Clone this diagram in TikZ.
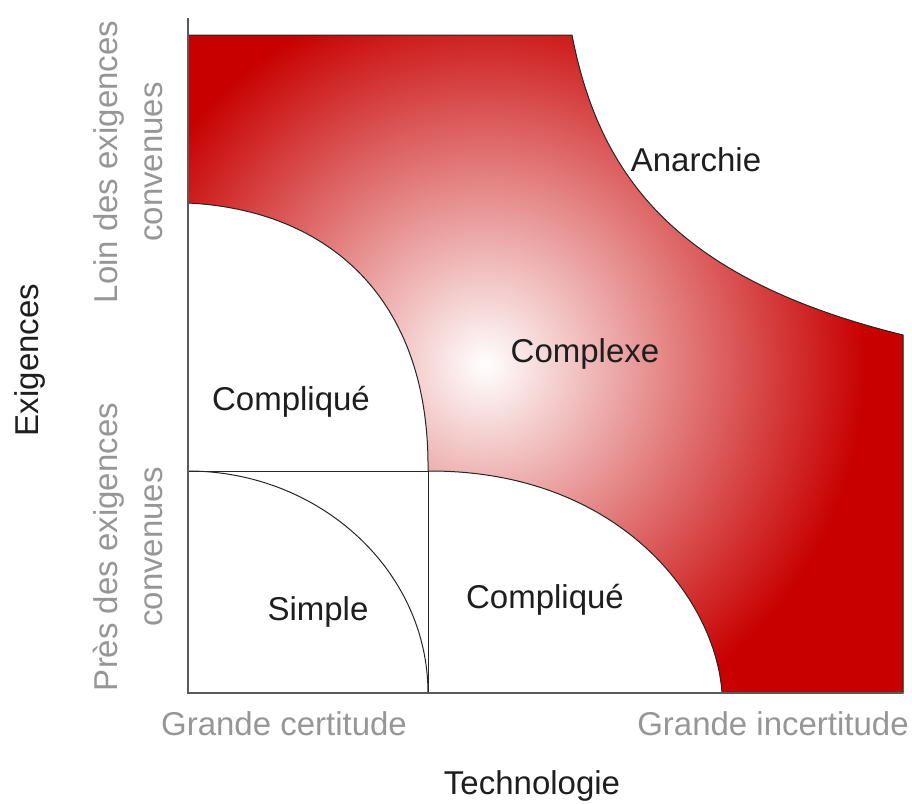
\documentclass[tikz,border=0pt]{standalone}
\usepackage{fontspec}
\setmainfont{Liberation Sans}
\usetikzlibrary{positioning}
\definecolor{cxred}{RGB}{200,0,0}
\definecolor{axisgray}{RGB}{150,150,150}
\definecolor{linegray}{RGB}{90,90,90}
\definecolor{labelblack}{RGB}{30,30,30}
\pgfdeclareradialshading{spot}{\pgfpoint{0bp}{0bp}}{color(0bp)=(white); color(12.5bp)=(cxred); color(25bp)=(cxred); color(50bp)=(cxred)}

\begin{document}
\begin{tikzpicture}[x=0.5pt,y=-0.5pt,
  lbl/.style={text=labelblack,font=\fontsize{16.5}{22.5}\selectfont},
  axlbl/.style={text=axisgray,font=\fontsize{16.5}{22.5}\selectfont,align=center},
  zone/.style={draw=black!85,line width=0.5pt},
  axisline/.style={draw=linegray,line width=0.8pt}]
\useasboundingbox (0,0) rectangle (912,804);
\coordinate (orig) at (188,693);
\coordinate (top) at (188,18);
\coordinate (right) at (903,693);
\coordinate (mid) at (428,471);
% complex zone with the light spot
\path[zone,fill=cxred,path picture={\shade[shading=spot] (485,365) circle[radius=380pt];}]
  (188,35) -- (572,35) .. controls (600,180) and (680,280) .. (903,335)
  -- (right) -- (722,693) .. controls (716,600) and (620,470) .. (mid)
  .. controls (430,300) and (330,210) .. (188,203) -- cycle;
% simple zone and dividers
\draw[zone] (188,471) -- (mid) -- (428,693);
\draw[zone] (188,471) .. controls (320,471) and (428,571) .. (428,693);
\draw[axisline] (top) -- (orig) -- (right);
% labels
\node[lbl] (anarchie) at (696,160) {Anarchie};
\node[lbl] (complexe) at (585,354) {Complexe};
\node[lbl] (compla) at (291,402) {Compliqué};
\node[lbl] (simple) at (318,612) {Simple};
\node[lbl] (complb) at (545,600) {Compliqué};
\node[axlbl] (certain) at (284,724) {Grande certitude};
\node[axlbl] (uncertain) at (773,724) {Grande incertitude};
\node[lbl] (techno) at (532,786) {Technologie};
\node[lbl,rotate=90] (exig) at (30,360) {Exigences};
\node[axlbl,rotate=90] (far) at (128,162) {Loin des exigences\\convenues};
\node[axlbl,rotate=90] (near) at (128,547) {Près des exigences\\convenues};
\end{tikzpicture}
\end{document}
